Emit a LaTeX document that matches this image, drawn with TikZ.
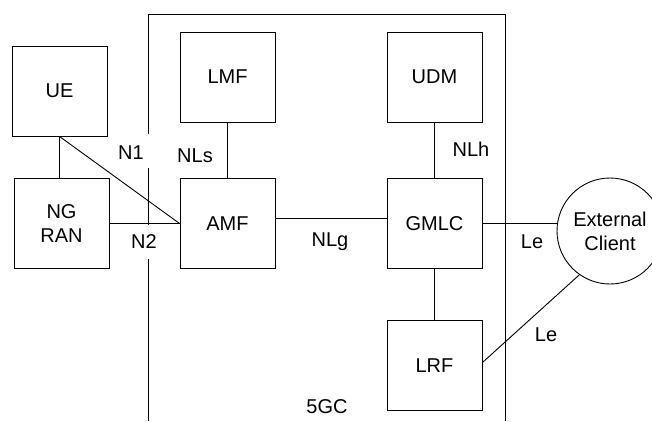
\documentclass[tikz,border=0pt]{standalone}
\usepackage{fontspec}
\setmainfont{Liberation Sans}
\usetikzlibrary{positioning}

\begin{document}
\begin{tikzpicture}[
  x=1pt, y=-1pt,
  nf/.style={draw, line width=0.9pt, minimum width=95pt, minimum height=90pt, inner sep=0pt, align=center, font=\fontsize{20}{24}\selectfont},
  client/.style={circle, draw, line width=0.9pt, minimum size=106pt, inner sep=0pt, align=center, font=\fontsize{20}{24}\selectfont},
  lbl/.style={font=\fontsize{20}{24}\selectfont, inner sep=1pt},
  line/.style={draw, line width=0.9pt, -}
]
\clip (0,0) rectangle (652,421);

% 5GC boundary
\draw[line] (148,421) -- (148,259) (148,225) -- (148,168) (148,134) -- (148,14) -- (505,14) -- (505,421);
\node[lbl] (core) at (327,407) {5GC};

% Network functions
\node[nf] (ue) at (59.5,91) {UE};
\node[nf] (ngran) at (61.5,223.5) {NG\\RAN};
\node[nf] (lmf) at (227.5,77) {LMF};
\node[nf] (amf) at (227.5,223.5) {AMF};
\node[nf] (udm) at (434.5,77) {UDM};
\node[nf] (gmlc) at (434.5,223.5) {GMLC};
\node[nf] (lrf) at (434.5,365.5) {LRF};
\node[client] (ext) at (610,231) {External\\Client};

% Connections
\draw[line] (ue.south) -- (ue.south |- ngran.north);
\draw[line] (ue.south) -- (amf.west);
\draw[line] (ngran.east) -- (amf.west);
\draw[line] (lmf) -- (amf);
\draw[line] ([yshift=5pt]amf.east) -- ([yshift=5pt]gmlc.west);
\draw[line] (udm) -- (gmlc);
\draw[line] (gmlc) -- (lrf);
\draw[line] (gmlc.east) -- (gmlc.east -| ext.west);
\draw[line] ([yshift=3pt]lrf.east) -- (ext.235);

% Interface labels
\node[lbl] (n1) at (131,153) {N1};
\node[lbl] (n2) at (144,242) {N2};
\node[lbl] (nls) at (195,156) {NLs};
\node[lbl] (nlg) at (330,242) {NLg};
\node[lbl] (nlh) at (471,149) {NLh};
\node[lbl] (le1) at (532,242) {Le};
\node[lbl] (le2) at (546,335) {Le};

\end{tikzpicture}
\end{document}
